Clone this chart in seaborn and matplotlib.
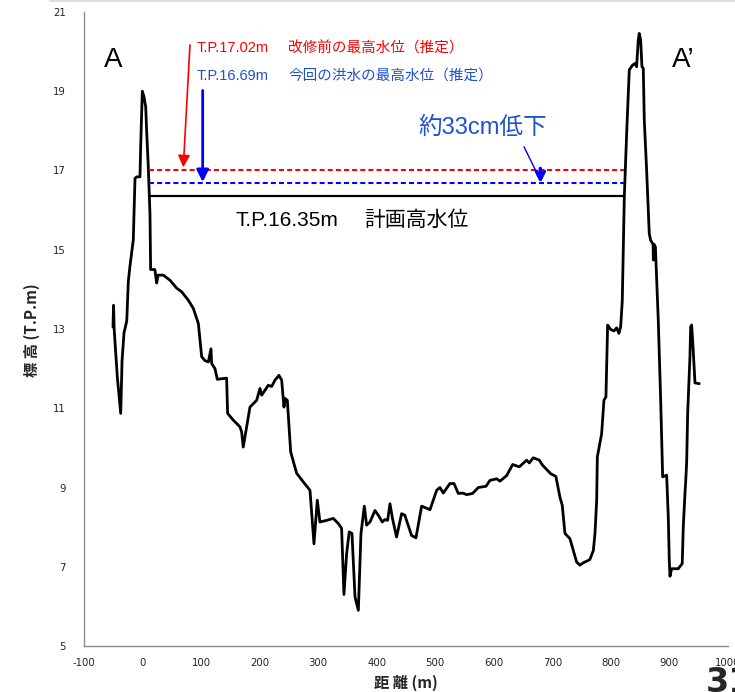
import numpy as np
import pandas as pd
import matplotlib
matplotlib.use("Agg")
import matplotlib.pyplot as plt
import seaborn as sns

# ---------------- data ----------------
dist = [-50.5, -49.5, -48.5, -43.1, -37.3, -35, -31.7, -27, -24.3, -21.4, -15.8, -12.9, -10, -4.4,
        -3.2, -0.4, 2.5, 5.4, 7, 9.8, 12.7, 13.8, 21, 24.2, 26.5, 35.5, 46.9, 58.3, 66.8, 78,
        86.7, 95.3, 101, 106.7, 112.4, 116.9, 118, 123.7, 127.7, 143.6, 145.3, 155, 166.4, 169.3,
        172, 177.9, 183.5, 194.9, 200.6, 203.5, 214.8, 220.6, 226.2, 233, 237.6, 241.6, 243.3,
        247.3, 253, 263.2, 274.6, 286, 292.8, 298.5, 303, 314.5, 325.8, 334.4, 340, 344, 348.6,
        353, 357.7, 362.9, 368.6, 373.1, 378.8, 382.7, 388.5, 397, 402.7, 409.5, 414, 418.6,
        422.6, 427, 433.9, 442.5, 448, 459.5, 467, 476.7, 491, 502.4, 508, 513.7, 525, 532,
        539.3, 546.8, 553.6, 563.8, 573.5, 586.6, 593.4, 604.9, 610.5, 621.9, 632.2, 643.5, 656,
        660.6, 667.4, 677.7, 683.4, 697, 706, 712.9, 716.9, 721.5, 730, 741.4, 747, 752.8, 764,
        770, 772.8, 775.7, 776.8, 784.2, 788.1, 791.5, 792.7, 794.4, 799.5, 805.2, 809.8, 813.7,
        816.6, 819.4, 822.9, 826.9, 831.4, 837.1, 841, 843.9, 846.7, 848.4, 850.8, 853, 855.3,
        857, 861, 865.5, 867.8, 872, 872.5, 873.5, 876, 880.9, 885, 888.4, 895.2, 898, 899.7,
        900.9, 903.7, 915, 921.8, 923.6, 926.5, 927.7, 929.4, 931.1, 935, 936.2, 937.9, 940.6,
        943.6, 951]
elev = [13.05, 13.6, 13.0, 11.79, 10.87, 12.2, 12.9, 13.2, 14.2, 14.6, 15.25, 16.8, 16.84, 16.84,
        17.6, 19.0, 18.86, 18.6, 18.0, 17.1, 15.9, 14.5, 14.5, 14.16, 14.36, 14.36, 14.23, 14.03,
        13.94, 13.73, 13.52, 13.14, 12.3, 12.2, 12.17, 12.5, 12.13, 12.0, 11.73, 11.76, 10.87,
        10.7, 10.53, 10.4, 10.02, 10.53, 11.03, 11.2, 11.5, 11.33, 11.58, 11.55, 11.71, 11.83,
        11.71, 11.03, 11.25, 11.2, 9.9, 9.36, 9.14, 8.93, 7.58, 8.68, 8.13, 8.17, 8.22, 8.09,
        7.97, 6.3, 7.33, 7.88, 7.84, 6.24, 5.9, 7.84, 8.53, 8.05, 8.13, 8.42, 8.3, 8.13, 8.19,
        8.17, 8.59, 8.21, 7.75, 8.34, 8.3, 7.79, 7.73, 8.53, 8.44, 8.93, 9.0, 8.86, 9.1, 9.1,
        8.85, 8.86, 8.82, 8.85, 9.0, 9.03, 9.18, 9.22, 9.16, 9.3, 9.58, 9.52, 9.69, 9.62, 9.75,
        9.69, 9.56, 9.35, 9.28, 8.76, 8.55, 7.84, 7.71, 7.12, 7.04, 7.1, 7.18, 7.41, 7.84, 8.68,
        9.77, 10.36, 11.2, 11.29, 12.04, 13.1, 12.99, 12.95, 13.03, 12.89, 13.05, 13.7, 16.34,
        17.94, 19.54, 19.66, 19.7, 19.62, 20.29, 20.46, 20.29, 19.62, 19.58, 18.27, 17.01,
        15.41, 15.24, 15.14, 14.74, 15.14, 15.07, 13.22, 11.2, 9.27, 9.31, 8.26, 7.16, 6.76,
        6.95, 6.95, 7.08, 8.0, 8.85, 9.14, 9.64, 10.87, 12.3, 13.05, 13.1, 12.46, 11.64, 11.62]

level_values = [17.02, 16.69, 16.35]
level_labels = ["T.P.17.02m", "T.P.16.69m", "T.P.16.35m"]
level_notes = ["改修前の最高水位（推定）", "今回の洪水の最高水位（推定）", "計画高水位"]
x_ticks = list(range(-100, 1001, 100))
y_ticks = list(range(5, 22, 2))

df = pd.DataFrame({"dist": dist, "elev": elev})

# ---------------- style ----------------
sns.set_style("white")
JP = ["Liberation Sans", "Noto Sans CJK JP", "DejaVu Sans"]
plt.rcParams["font.family"] = JP
plt.rcParams["axes.unicode_minus"] = False

W, H = 735, 692
fig = plt.figure(figsize=(W / 100, H / 100), dpi=100)
ax = fig.add_axes([84 / W, 1 - 646 / H, (728 - 84) / W, (646 - 12) / H])

sns.lineplot(data=df, x="dist", y="elev", sort=False, estimator=None,
             color="black", linewidth=2.0, ax=ax)

# water levels
xs, xe = 11, 822
ax.plot([xs, xe], [level_values[0]] * 2, color="#FF0000", lw=1.5, dashes=(2.4, 1.5))
ax.plot([xs, xe], [level_values[1]] * 2, color="#0000FF", lw=1.5, dashes=(2.4, 1.5))
ax.plot([xs, xe], [level_values[2]] * 2, color="black", lw=1.6)

ax.set_xlim(-100, 1000)
ax.set_ylim(5, 21)
ax.set_xticks(x_ticks)
ax.set_yticks(y_ticks)
ax.set_xticklabels([str(v) for v in x_ticks])
ax.set_yticklabels([str(v) for v in y_ticks])
ax.set_xlabel("")
ax.set_ylabel("")
for side in ["top", "right"]:
    ax.spines[side].set_visible(False)
for side in ["left", "bottom"]:
    ax.spines[side].set_color("#8c8c8c")
    ax.spines[side].set_linewidth(1.0)
ax.tick_params(axis="both", direction="out", length=5, width=1, color="#8c8c8c",
               labelsize=7.3, labelcolor="#222222")
for lab in ax.get_xticklabels() + ax.get_yticklabels():
    lab.set_fontfamily(["DejaVu Sans"])
ax.tick_params(axis="y", pad=8)
ax.tick_params(axis="x", pad=4)

# annotations: red / blue texts
red = "#FF0000"
tblue = "#1F50D0"
fig.text(197 / W, 1 - 48 / H, level_labels[0], color=red, fontsize=10.5, va="center", ha="left")
fig.text(288 / W, 1 - 48 / H, level_notes[0], color=red, fontsize=10.5, va="center", ha="left")
fig.text(197 / W, 1 - 76 / H, level_labels[1], color=tblue, fontsize=10.5, va="center", ha="left")
fig.text(288 / W, 1 - 76 / H, level_notes[1], color=tblue, fontsize=10.5, va="center", ha="left")
fig.text(235 / W, 1 - 220 / H, level_labels[2], color="black", fontsize=15, va="center", ha="left")
fig.text(364 / W, 1 - 220 / H, level_notes[2], color="black", fontsize=15, va="center", ha="left")
fig.text(418 / W, 1 - 128 / H, "約33cm低下", color=tblue, fontsize=17, va="center", ha="left")

# arrows
ax.annotate("", xy=(69.6, 17.08), xytext=(81, 20.17),
            arrowprops=dict(arrowstyle="-|>", color=red, lw=1.2, mutation_scale=18,
                            shrinkA=0, shrinkB=0))
ax.annotate("", xy=(102.7, 16.71), xytext=(102.7, 19.02),
            arrowprops=dict(arrowstyle="-|>", color="#0000FF", lw=2.0, mutation_scale=18,
                            shrinkA=0, shrinkB=0))
ax.annotate("", xy=(678.8, 16.78), xytext=(651.5, 17.6),
            arrowprops=dict(arrowstyle="-", color="#0000FF", lw=1.0, shrinkA=0, shrinkB=0))
ax.annotate("", xy=(679.5, 16.68), xytext=(679.5, 17.05),
            arrowprops=dict(arrowstyle="->", color="#0000FF", lw=2.6, mutation_scale=14,
                            shrinkA=0, shrinkB=0))

# section labels
fig.text(113 / W, 1 - 60 / H, "A", fontsize=20, ha="center", va="center", color="black")
fig.text(683 / W, 1 - 60 / H, "A’", fontsize=20, ha="center", va="center", color="black")

# axis labels
fig.text(32 / W, 1 - 330 / H, "標 高 (T.P.m)", rotation=90, fontsize=11, fontweight="bold",
         ha="center", va="center", family=["Noto Sans CJK JP", "DejaVu Sans"])
fig.text(406 / W, 1 - 683 / H, "距 離 (m)", fontsize=11, fontweight="bold",
         ha="center", va="center", family=["Noto Sans CJK JP", "DejaVu Sans"])

# page number
fig.text(706 / W, 1 - 683 / H, "31", fontsize=24, fontweight="bold", ha="left", va="center",
         family=["Liberation Sans Narrow", "DejaVu Sans"])

# faint top border
fig.add_artist(plt.Line2D([50 / W, 1], [1 - 1 / H, 1 - 1 / H], color="#d9d9d9", lw=1.2))

fig.savefig("out.png", dpi=100)
